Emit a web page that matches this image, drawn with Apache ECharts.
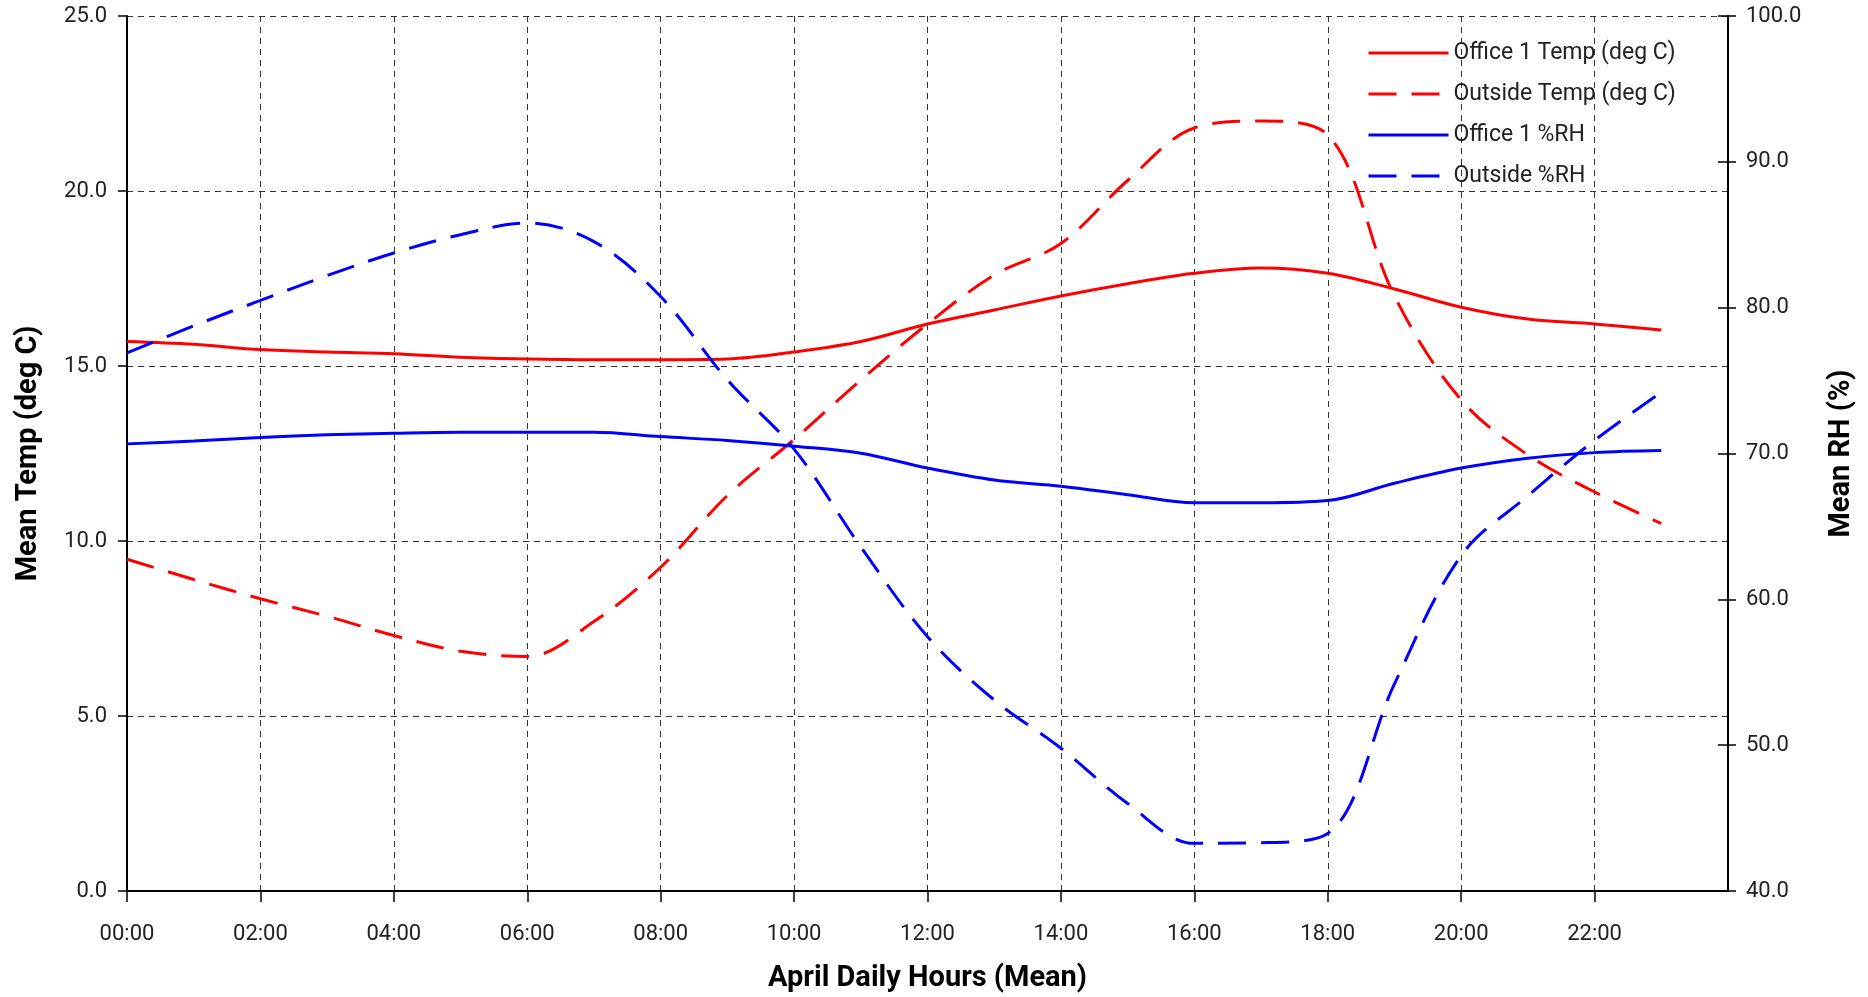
<!DOCTYPE html>
<html>
<head>
<meta charset="utf-8">
<script src="https://cdn.jsdelivr.net/npm/echarts@6/dist/echarts.min.js"></script>
<style>
html,body{margin:0;padding:0;background:#fff;}
#chart{width:1868px;height:997px;}
</style>
</head>
<body>
<div id="chart"></div>
<script>
// ---- data ----
const hours = [0,1,2,3,4,5,6,7,8,9,10,11,12,13,14,15,16,17,18,19,20,21,22,23];
const officeTemp = [15.7,15.62,15.47,15.4,15.35,15.25,15.2,15.18,15.18,15.2,15.4,15.7,16.2,16.6,17.0,17.35,17.65,17.8,17.65,17.2,16.68,16.34,16.2,16.03];
const outsideTemp = [9.48,8.9,8.35,7.85,7.3,6.85,6.7,7.7,9.25,11.3,12.9,14.6,16.2,17.6,18.5,20.3,21.8,22.0,21.6,17.0,14.03,12.46,11.4,10.5];
const officeRH = [70.66,70.85,71.1,71.28,71.39,71.46,71.46,71.46,71.16,70.89,70.5,70.02,69.0,68.18,67.75,67.17,66.62,66.62,66.77,67.96,69.0,69.68,70.06,70.2];
const outsideRH = [76.9,78.75,80.5,82.2,83.75,85.0,85.8,84.53,80.76,75.05,70.3,63.6,57.44,53.1,49.79,46.0,43.27,43.31,43.95,54.2,63.0,67.1,70.9,74.2];
const seriesNames = ['Office 1 Temp (deg C)','Outside Temp (deg C)','Office 1 %RH','Outside %RH'];
const xTitle = 'April Daily Hours (Mean)';
const yLeftTitle = 'Mean Temp (deg C)';
const yRightTitle = 'Mean RH (%)';

const pairs = arr => hours.map((h,i) => [h, arr[i]]);
const txt = '#222';
const tickFont = {fontFamily:'Roboto', fontSize:22, color:txt};
const titleFont = {fontFamily:'Roboto', fontWeight:'bold', fontSize:29, color:'#000'};
const gridDash = {color:'#333', width:1, type:[6,5]};
const DASH = [28,15];
const RED = '#ff0000', BLUE = '#0000ff';
const styles = [
  {color:RED, type:'solid'},
  {color:RED, type:DASH},
  {color:BLUE, type:'solid'},
  {color:BLUE, type:DASH}
];

const chart = echarts.init(document.getElementById('chart'), null, {renderer:'canvas'});
chart.setOption({
  animation:false,
  backgroundColor:'#fff',
  grid:{left:127, right:140, top:16, bottom:106, containLabel:false, outerBoundsMode:'none'},
  legend:{
    orient:'vertical', left:1362, top:36,
    itemWidth:80, itemHeight:14, itemGap:17,
    itemStyle:{opacity:0},
    textStyle:{fontFamily:'Roboto', fontSize:23, color:txt, lineHeight:24},
    data:seriesNames.map((n,i) => ({
      name:n,
      itemStyle:{opacity:0},
      lineStyle:{color:styles[i].color, width:3, type:styles[i].type}
    }))
  },
  xAxis:{
    type:'value', min:0, max:24, interval:2,
    name:xTitle, nameLocation:'middle', nameGap:73, nameTextStyle:titleFont,
    axisLine:{show:true, lineStyle:{color:'#000', width:2}},
    axisTick:{show:true, inside:false, length:11, lineStyle:{color:'#000', width:1.5}},
    axisLabel:{...tickFont, margin:32, showMaxLabel:false,
      formatter:v => (v<10?'0':'') + v + ':00'},
    splitLine:{show:true, lineStyle:gridDash}
  },
  yAxis:[
    {
      type:'value', min:0, max:25, interval:5, position:'left',
      name:yLeftTitle, nameLocation:'middle', nameGap:84, nameRotate:90, nameTextStyle:titleFont,
      axisLine:{show:true, lineStyle:{color:'#000', width:2}},
      axisTick:{show:true, inside:false, length:9, lineStyle:{color:'#000', width:1.5}},
      axisLabel:{...tickFont, margin:20, formatter:v => v.toFixed(1)},
      splitLine:{show:true, lineStyle:gridDash}
    },
    {
      type:'value', min:40, max:100, interval:10, position:'right',
      name:yRightTitle, nameLocation:'middle', nameGap:99, nameRotate:90, nameTextStyle:titleFont,
      axisLine:{show:true, lineStyle:{color:'#000', width:2}},
      axisTick:{show:true, inside:false, length:8, lineStyle:{color:'#000', width:1.5}},
      axisLabel:{...tickFont, margin:18, formatter:v => v.toFixed(1)},
      splitLine:{show:false}
    },
    {
      type:'value', min:40, max:100, interval:10, position:'right',
      axisLine:{show:false},
      axisTick:{show:true, inside:true, length:10, lineStyle:{color:'#000', width:1.5}},
      axisLabel:{show:false},
      splitLine:{show:false}
    }
  ],
  series:[
    {name:seriesNames[0], type:'line', yAxisIndex:0, data:pairs(officeTemp), smooth:0.35, symbol:'none',
     lineStyle:{color:RED, width:3, type:'solid'}, itemStyle:{color:RED}},
    {name:seriesNames[1], type:'line', yAxisIndex:0, data:pairs(outsideTemp), smooth:0.35, symbol:'none',
     lineStyle:{color:RED, width:3, type:DASH}, itemStyle:{color:RED}},
    {name:seriesNames[2], type:'line', yAxisIndex:1, data:pairs(officeRH), smooth:0.35, symbol:'none',
     lineStyle:{color:BLUE, width:3, type:'solid'}, itemStyle:{color:BLUE}},
    {name:seriesNames[3], type:'line', yAxisIndex:1, data:pairs(outsideRH), smooth:0.35, symbol:'none',
     lineStyle:{color:BLUE, width:3, type:DASH}, itemStyle:{color:BLUE}}
  ]
});
</script>
</body>
</html>
